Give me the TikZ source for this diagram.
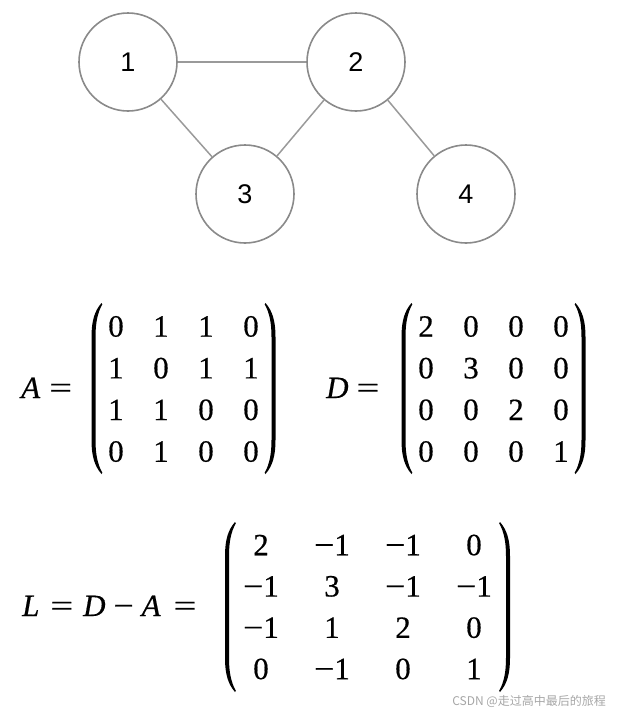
\documentclass[tikz,border=0pt]{standalone}
\usepackage{fontspec}
\usepackage{graphicx}
\setmainfont{Liberation Serif}[FakeBold=0.5]
\newfontfamily\labelsans{Liberation Sans}
\newfontfamily\cjkfont{Noto Sans CJK SC}
\usetikzlibrary{matrix}
\definecolor{vgray}{HTML}{8A8A8A}
\definecolor{egray}{HTML}{9A9A9A}
\newcommand\mminus{\scalebox{1.15}[1]{−}}
\newcommand\meq{\scalebox{1.3}[1]{=}}
% parenthesis: #1 outer x of stem, #2 top, #3 bottom, #4 direction (1 left, (-1) right)
\newcommand\drawparen[4]{%
  \fill[black] ({#1+#4*10},#2) .. controls ({#1+#4*3},{#2+8}) and ({#1},{#2+18}) .. ({#1},{#2+34})
    -- ({#1},{#3-34}) .. controls ({#1},{#3-18}) and ({#1+#4*3},{#3-8}) .. ({#1+#4*10},#3)
    -- ({#1+#4*10.8},{#3-1.2}) .. controls ({#1+#4*6},{#3-10}) and ({#1+#4*4},{#3-20}) .. ({#1+#4*4},{#3-34})
    -- ({#1+#4*4},{#2+34}) .. controls ({#1+#4*4},{#2+20}) and ({#1+#4*6},{#2+10}) .. ({#1+#4*10.8},{#2+1.2})
    -- cycle;}
\begin{document}
\begin{tikzpicture}[x=1pt,y=-1pt,
  vertex/.style={circle, draw=vgray, line width=1.6pt, minimum size=98pt, inner sep=0pt,
    font=\labelsans\fontsize{27}{27}\selectfont},
  edge/.style={draw=egray, line width=1.5pt},
  mat/.style={matrix of nodes, inner sep=0pt, outer sep=0pt, row sep=0pt,
    font=\fontsize{31}{31}\selectfont},
  cellA/.style={nodes={minimum width=30pt, minimum height=41.7pt, inner sep=0pt, anchor=center}, column sep=15pt},
  cellL/.style={nodes={minimum width=50pt, minimum height=41.3pt, inner sep=0pt, anchor=center}, column sep=21pt},
  lab/.style={inner sep=0pt, font=\fontsize{31}{31}\selectfont},
  wmark/.style={inner sep=0pt, text=gray!70, font=\cjkfont\fontsize{12}{12}\selectfont}
]
\useasboundingbox (0,0) rectangle (620,716);

% graph
\node[vertex] (n1) at (128,62) {1};
\node[vertex] (n2) at (356,62) {2};
\node[vertex] (n3) at (245,194) {3};
\node[vertex] (n4) at (466,194) {4};
\draw[edge] (n1) -- (n2);
\draw[edge] (n1) -- (n3);
\draw[edge] (n2) -- (n3);
\draw[edge] (n2) -- (n4);

% adjacency matrix
\node[lab, anchor=base west] (Alab) at (21,398) {\textit{A}\hspace{9pt}\meq};
\matrix[mat, cellA] (A) at (183.5,389) {
0 & 1 & 1 & 0\\
1 & 0 & 1 & 1\\
1 & 1 & 0 & 0\\
0 & 1 & 0 & 0\\
};
\drawparen{91.5}{303}{474}{1}
\drawparen{275.5}{303}{474}{(-1)}

% degree matrix
\node[lab, anchor=base west] (Dlab) at (326,398) {\textit{D}\hspace{8pt}\meq};
\matrix[mat, cellA] (D) at (493.5,389) {
2 & 0 & 0 & 0\\
0 & 3 & 0 & 0\\
0 & 0 & 2 & 0\\
0 & 0 & 0 & 1\\
};
\drawparen{401.5}{303}{474}{1}
\drawparen{585.5}{303}{474}{(-1)}

% Laplacian
\node[lab, anchor=base west] (Llab) at (22,616) {\textit{L}\hspace{11pt}\meq\hspace{10pt}\textit{D}\hspace{8pt}\mminus\hspace{8pt}\textit{A}\hspace{13pt}\meq};
\matrix[mat, cellL] (L) at (367.5,607) {
2 & \mminus 1 & \mminus 1 & 0\\
\mminus 1 & 3 & \mminus 1 & \mminus 1\\
\mminus 1 & 1 & 2 & 0\\
0 & \mminus 1 & 0 & 1\\
};
\drawparen{225}{522}{692}{1}
\drawparen{510}{522}{692}{(-1)}

\node[wmark, anchor=east] (wm) at (606,701) {CSDN @走过高中最后的旅程};
\end{tikzpicture}
\end{document}
